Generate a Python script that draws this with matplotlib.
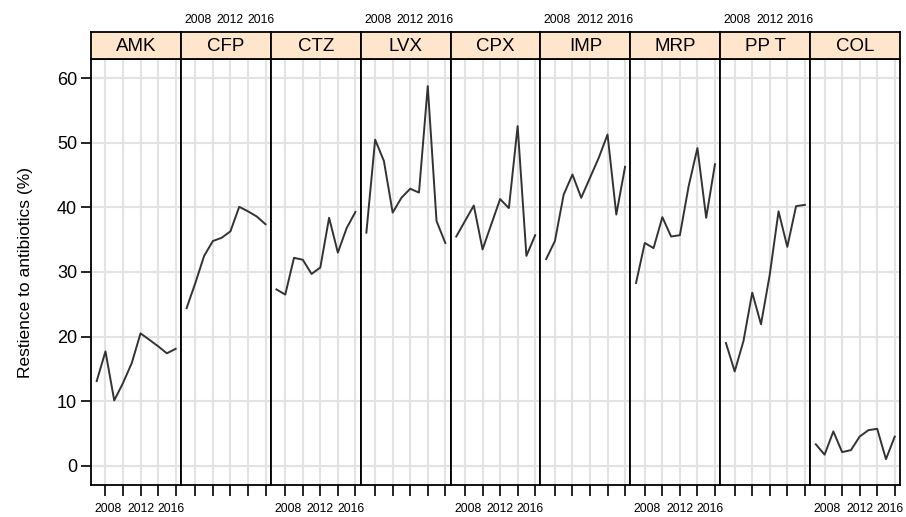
import matplotlib.pyplot as plt

plt.rcParams["font.family"] = ["Liberation Sans", "DejaVu Sans"]

years = [2007, 2008, 2009, 2010, 2011, 2012, 2013, 2014, 2015, 2016]
drugs = ["AMK", "CFP", "CTZ", "LVX", "CPX", "IMP", "MRP", "PP T", "COL"]

amk = [13.1, 17.7, 10.1, 12.8, 15.9, 20.5, 19.5, 18.5, 17.4, 18.1]
cfp = [24.4, 28.3, 32.5, 34.8, 35.3, 36.3, 40.1, 39.4, 38.6, 37.4]
ctz = [27.3, 26.5, 32.2, 31.9, 29.7, 30.7, 38.4, 33.0, 36.8, 39.3]
lvx = [36.1, 50.5, 47.2, 39.2, 41.5, 42.9, 42.3, 58.8, 37.9, 34.5]
cpx = [35.5, 37.9, 40.3, 33.5, 37.4, 41.3, 39.9, 52.6, 32.5, 35.7]
imp = [32.0, 34.8, 42.0, 45.1, 41.5, 44.6, 47.7, 51.3, 38.9, 46.3]
mrp = [28.3, 34.5, 33.7, 38.5, 35.5, 35.7, 43.3, 49.2, 38.4, 46.7]
ppt = [19.0, 14.6, 19.3, 26.8, 21.9, 29.6, 39.4, 33.9, 40.2, 40.4]
col = [3.3, 1.7, 5.3, 2.1, 2.4, 4.5, 5.5, 5.7, 1.0, 4.5]
series = [amk, cfp, ctz, lvx, cpx, imp, mrp, ppt, col]

tick_years = [2008, 2010, 2012, 2014, 2016]
label_text = ["2008", "2012", "2016"]
# labels sit slightly inward of their ticks in the original
label_pos = [2008.3, 2012.0, 2015.45]
y_ticks = [0, 10, 20, 30, 40, 50, 60]

W, H = 906, 517
fig = plt.figure(figsize=(W / 100, H / 100), dpi=100)

left, right = 91 / W, 900 / W
bottom, top = 1 - 485 / H, 1 - 59 / H
strip_top = 1 - 32 / H
pw = (right - left) / len(drugs)
xlim = (2006.35, 2016.6)

for i, (name, vals) in enumerate(zip(drugs, series)):
    ax = fig.add_axes([left + i * pw, bottom, pw, top - bottom])
    ax.xaxis.remove_overlapping_locs = False
    ax.plot(years, vals, color="#333333", lw=1.4)
    ax.set_xlim(*xlim)
    ax.set_ylim(-3, 63)
    ax.set_xticks(tick_years)
    ax.set_xticklabels([""] * len(tick_years))
    ax.set_yticks(y_ticks)
    ax.grid(True, which="major", color="#e3e3e3", lw=1.5)
    ax.set_axisbelow(True)
    for sp in ax.spines.values():
        sp.set_linewidth(1.3)
    ax.tick_params(axis="x", which="major", direction="out", length=8,
                   width=1.2)
    if i % 2 == 0:
        ax.set_xticks(label_pos, minor=True)
        ax.set_xticklabels(label_text, minor=True)
        ax.tick_params(axis="x", which="minor", length=0, pad=13,
                       labelsize=8.8)
    if i == 0:
        ax.tick_params(axis="y", direction="out", length=7, width=1.2,
                       pad=3, labelsize=13)
        ax.set_ylabel("Restience to antibiotics (%)", fontsize=12.5,
                      labelpad=17)
    else:
        ax.tick_params(axis="y", left=False, labelleft=False)

    sax = fig.add_axes([left + i * pw, top, pw, strip_top - top])
    sax.set_facecolor("#ffe5cc")
    sax.set_xlim(*xlim)
    sax.set_yticks([])
    sax.set_xticks([])
    for sp in sax.spines.values():
        sp.set_linewidth(1.3)
    sax.text(0.5, 0.45, name, transform=sax.transAxes, ha="center",
             va="center", fontsize=13.5)
    if i % 2 == 1:
        sax.set_xticks(label_pos)
        sax.set_xticklabels(label_text)
        sax.tick_params(axis="x", bottom=False, labelbottom=False,
                        top=False, labeltop=True, length=0, pad=4,
                        labelsize=8.8)

fig.savefig("out.png", dpi=100)
